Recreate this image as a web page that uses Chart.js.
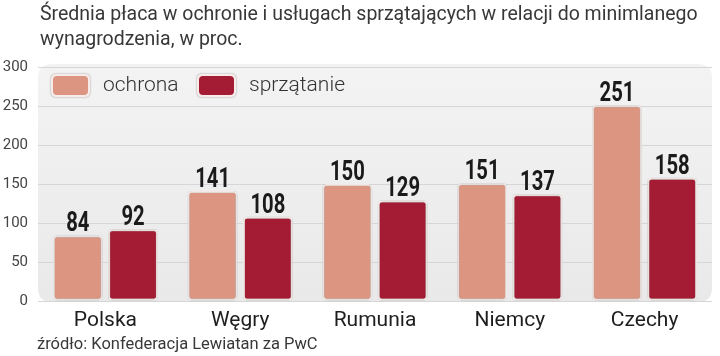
<!DOCTYPE html>
<html><head><meta charset="utf-8">
<script src="https://cdn.jsdelivr.net/npm/chart.js@4/dist/chart.umd.min.js"></script>
<style>html,body{margin:0;padding:0;background:#fff}#wrap{width:720px;height:356px}</style>
</head><body><div id="wrap"><canvas id="c" width="720" height="356"></canvas></div>
<script>
const categories = ['Polska', 'Węgry', 'Rumunia', 'Niemcy', 'Czechy'];
const ochrona = [84, 141, 150, 151, 251];
const sprzatanie = [92, 108, 129, 137, 158];
const seriesNames = ['ochrona', 'sprzątanie'];
const yTicks = [0, 50, 100, 150, 200, 250, 300];
const titleLines = ['Średnia płaca w ochronie i usługach sprzątających w relacji do minimlanego', 'wynagrodzenia, w proc.'];
const sourceText = 'źródło: Konfederacja Lewiatan za PwC';

const C1 = '#dc9581', C2 = '#a41c33';

function rr(ctx, x, y, w, h, r) {
  ctx.beginPath();
  ctx.moveTo(x + r, y);
  ctx.lineTo(x + w - r, y); ctx.quadraticCurveTo(x + w, y, x + w, y + r);
  ctx.lineTo(x + w, y + h - r); ctx.quadraticCurveTo(x + w, y + h, x + w - r, y + h);
  ctx.lineTo(x + r, y + h); ctx.quadraticCurveTo(x, y + h, x, y + h - r);
  ctx.lineTo(x, y + r); ctx.quadraticCurveTo(x, y, x + r, y);
  ctx.closePath();
}

const deco = {
  id: 'deco',
  beforeDraw(chart) {
    const {ctx, chartArea: a} = chart;
    ctx.save();
    const g = ctx.createLinearGradient(0, a.top, 0, a.bottom);
    g.addColorStop(0, '#f3f3f3');
    g.addColorStop(1, '#e9e9e9');
    ctx.fillStyle = g;
    rr(ctx, a.left, a.top - 3, a.right - a.left, a.bottom - a.top + 4, 14);
    ctx.fill();
    ctx.restore();
  },
  beforeDatasetsDraw(chart) {
    const ctx = chart.ctx;
    ctx.save();
    ctx.shadowColor = 'rgba(0,0,0,0.35)';
    ctx.shadowBlur = 2;
  },
  afterDatasetsDraw(chart) {
    const ctx = chart.ctx;
    ctx.restore();
    // value labels
    ctx.save();
    ctx.fillStyle = '#1a1a1a';
    ctx.font = 'bold 27px Roboto, sans-serif';
    ctx.textAlign = 'center';
    ctx.textBaseline = 'alphabetic';
    chart.data.datasets.forEach((ds, i) => {
      chart.getDatasetMeta(i).data.forEach((el, j) => {
        ctx.save();
        ctx.translate(el.x, el.y - 4);
        ctx.scale(0.75, 1);
        ctx.fillText(String(ds.data[j]), 0, 0);
        ctx.restore();
      });
    });
    ctx.restore();
  },
  afterDraw(chart) {
    const {ctx, chartArea: a} = chart;
    ctx.save();
    // title
    ctx.fillStyle = '#383838';
    ctx.font = '400 19.5px Roboto, sans-serif';
    ctx.textAlign = 'left';
    ctx.textBaseline = 'alphabetic';
    ctx.fillText(titleLines[0], 40, 20);
    ctx.fillText(titleLines[1], 40, 45);
    // source
    ctx.font = '400 16.5px Roboto, sans-serif';
    ctx.fillText(sourceText, 37, 349);
    // legend
    const items = [{x: a.left + 13, c: C1}, {x: a.left + 159, c: C2}];
    ctx.font = '300 21px Roboto, sans-serif';
    items.forEach((it, i) => {
      ctx.save();
      ctx.shadowColor = 'rgba(0,0,0,0.4)';
      ctx.shadowBlur = 2;
      rr(ctx, it.x, a.top + 7, 39, 23, 5);
      ctx.fillStyle = '#f7ecea';
      ctx.fill();
      ctx.restore();
      rr(ctx, it.x + 2, a.top + 9, 35, 19, 4);
      ctx.fillStyle = it.c;
      ctx.fill();
      ctx.fillStyle = '#333';
      ctx.textBaseline = 'middle';
      ctx.fillText(seriesNames[i], it.x + 52, a.top + 19);
    });
    ctx.restore();
  }
};

new Chart(document.getElementById('c'), {
  type: 'bar',
  data: {
    labels: categories,
    datasets: [
      {label: seriesNames[0], data: ochrona, backgroundColor: C1, borderColor: '#f7ecea', borderWidth: 2, borderRadius: 4, borderSkipped: false},
      {label: seriesNames[1], data: sprzatanie, backgroundColor: C2, borderColor: '#f7ecea', borderWidth: 2, borderRadius: 4, borderSkipped: false}
    ]
  },
  options: {
    responsive: false,
    animation: false,
    events: [],
    layout: {padding: {top: 67, right: 8, left: 0, bottom: 0}},
    datasets: {bar: {categoryPercentage: 0.82, barPercentage: 0.9}},
    plugins: {legend: {display: false}, tooltip: {enabled: false}, title: {display: false}},
    scales: {
      x: {
        grid: {display: false, drawTicks: false},
        border: {display: false},
        ticks: {color: '#1e1e1e', font: {family: 'Roboto', size: 21}, padding: 7},
        afterFit(s) { s.height = 55; }
      },
      y: {
        min: 0, max: 300,
        afterBuildTicks(s) { s.ticks = yTicks.map(v => ({value: v})); },
        grid: {color: '#d6d6d6', lineWidth: 1, drawTicks: false},
        border: {display: false},
        ticks: {color: '#444', font: {family: 'Roboto', size: 15}, padding: 10},
        afterFit(s) { s.width = 38; }
      }
    }
  },
  plugins: [deco]
});
</script></body></html>
